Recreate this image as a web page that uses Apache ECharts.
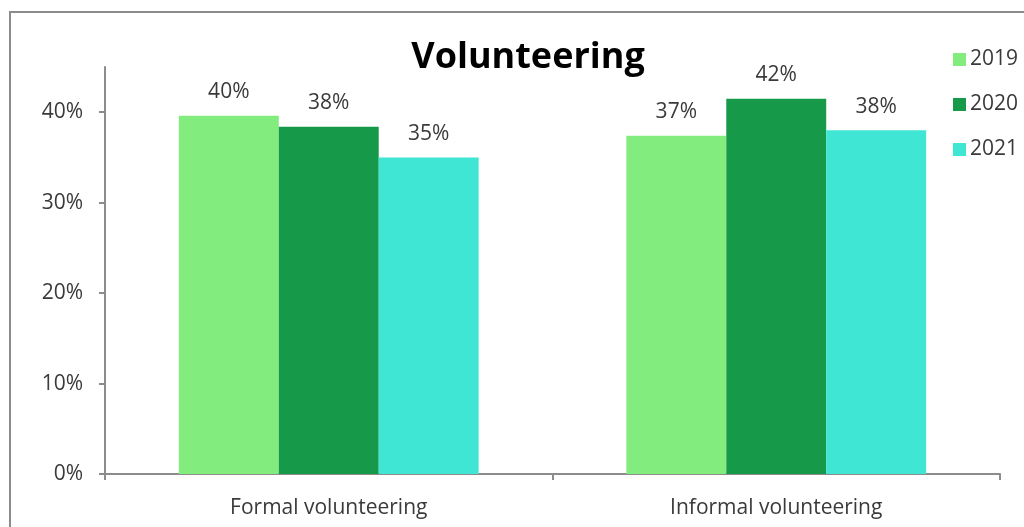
<!DOCTYPE html>
<html>
<head>
<meta charset="utf-8">
<script src="https://cdn.jsdelivr.net/npm/echarts@6/dist/echarts.min.js"></script>
<style>
html,body{margin:0;padding:0;background:#fff;}
#chart{width:1024px;height:527px;}
</style>
</head>
<body>
<div id="chart"></div>
<script>
const categories = ['Formal volunteering', 'Informal volunteering'];
const seriesNames = ['2019', '2020', '2021'];
const values2019 = [39.6, 37.4];
const values2020 = [38.4, 41.5];
const values2021 = [35.0, 38.0];
const yTicks = [0, 10, 20, 30, 40];
const colors = ['#82ED7E', '#17994A', '#40E6D4'];

const allValues = [values2019, values2020, values2021];
const font = '"Open Sans", Lato, sans-serif';
const textColor = '#3a3a3a';

const chart = echarts.init(document.getElementById('chart'));
chart.setOption({
  animation: false,
  backgroundColor: '#ffffff',
  graphic: [{
    type: 'rect',
    shape: {x: 10, y: 12, width: 1040, height: 560},
    style: {fill: 'none', stroke: '#8c8c8c', lineWidth: 2},
    silent: true
  }],
  title: {
    text: 'Volunteering',
    left: 523,
    top: 35,
    textAlign: 'center',
    textStyle: {fontFamily: font, fontWeight: 'bold', fontSize: 36, color: '#000'}
  },
  legend: {
    orient: 'vertical',
    left: 948,
    top: 44,
    itemWidth: 13,
    itemHeight: 13,
    itemGap: 24,
    icon: 'rect',
    textStyle: {fontFamily: font, fontSize: 21, color: textColor, padding: [0, 0, 0, -1]},
    data: seriesNames
  },
  grid: {left: 105, right: 24, top: 67, bottom: 53, containLabel: false},
  xAxis: {
    type: 'category',
    data: categories,
    axisLine: {lineStyle: {color: '#8c8c8c', width: 2}},
    axisTick: {show: true, length: 6, lineStyle: {color: '#8c8c8c', width: 2}},
    axisLabel: {fontFamily: font, fontSize: 21, color: textColor, margin: 24}
  },
  yAxis: {
    type: 'value',
    min: 0,
    max: 45,
    interval: 10,
    splitLine: {show: false},
    axisLine: {show: true, lineStyle: {color: '#8c8c8c', width: 2}},
    axisTick: {show: true, length: 6, lineStyle: {color: '#8c8c8c', width: 2}, customValues: yTicks},
    axisLabel: {fontFamily: font, fontSize: 21, color: textColor, margin: 22, customValues: yTicks,
      formatter: v => v + '%'}
  },
  series: seriesNames.map((name, i) => ({
    name: name,
    type: 'bar',
    data: allValues[i],
    barGap: '0%',
    barCategoryGap: '33%',
    itemStyle: {color: colors[i]},
    label: {
      show: true,
      position: 'top',
      distance: 13,
      fontFamily: font,
      fontSize: 21,
      color: textColor,
      formatter: p => Math.round(p.value) + '%'
    }
  }))
});
</script>
</body>
</html>
